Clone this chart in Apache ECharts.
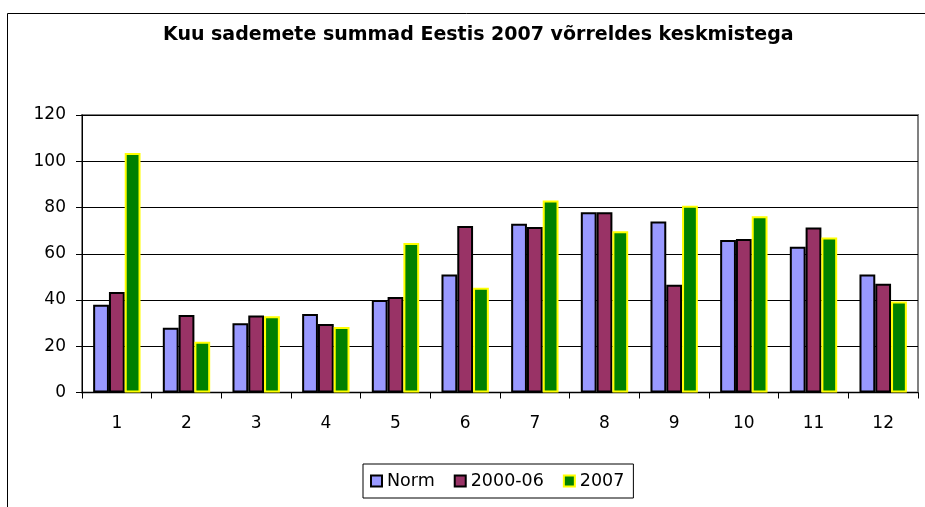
<!DOCTYPE html>
<html>
<head>
<meta charset="utf-8">
<script src="https://cdn.jsdelivr.net/npm/echarts@6/dist/echarts.min.js"></script>
<style>
  html, body { margin: 0; padding: 0; background: #fff; }
  #chart { width: 925px; height: 507px; }
</style>
</head>
<body>
<div id="chart"></div>
<script>
// kuud
var months = ['1', '2', '3', '4', '5', '6', '7', '8', '9', '10', '11', '12'];
// sademed, mm
var normValues = [38, 28, 30, 34, 40, 51, 73, 78, 74, 66, 63, 51];
var avgValues = [43.5, 33.5, 33.3, 29.6, 41.3, 72, 71.6, 78, 46.6, 66.4, 71.3, 47];
var values2007 = [103.6, 22, 33, 28.3, 64.6, 45.3, 83, 69.7, 80.8, 76.2, 67, 39.4];
var seriesNames = ['Norm', '2000-06', '2007'];
var yTicks = [0, 20, 40, 60, 80, 100, 120];

var font = 'DejaVu Sans';
var myChart = echarts.init(document.getElementById('chart'));
var option;

option = {
  animation: false,
  backgroundColor: '#fff',
  title: {
    text: 'Kuu sademete summad Eestis 2007 võrreldes keskmistega',
    left: 158,
    top: 21,
    textStyle: {
      fontFamily: font,
      fontSize: 19,
      fontWeight: 'bold',
      color: '#000'
    }
  },
  // välimine raam
  graphic: [
    {
      type: 'rect',
      shape: { x: 7.5, y: 13.5, width: 960, height: 560 },
      style: { fill: 'none', stroke: '#000', lineWidth: 1 },
      silent: true
    }
  ],
  legend: {
    data: seriesNames,
    left: 363,
    top: 464,
    orient: 'horizontal',
    borderColor: '#000',
    borderWidth: 1,
    padding: [8, 9, 8, 7],
    itemWidth: 11,
    itemHeight: 11,
    itemGap: 19,
    icon: 'rect',
    textStyle: {
      fontFamily: font,
      fontSize: 17.5,
      color: '#000'
    }
  },
  grid: {
    left: 82,
    right: 7,
    top: 115,
    bottom: 114.5,
    show: true,
    borderColor: '#808080',
    borderWidth: 2
  },
  xAxis: {
    type: 'category',
    data: months,
    axisLine: { lineStyle: { color: '#000', width: 1 } },
    axisTick: { show: true, alignWithLabel: false, length: 6, lineStyle: { color: '#000' } },
    axisLabel: {
      margin: 23,
      fontFamily: font,
      fontSize: 17,
      color: '#000'
    }
  },
  yAxis: {
    type: 'value',
    min: yTicks[0],
    max: yTicks[yTicks.length - 1],
    interval: 20,
    axisLine: { show: true, lineStyle: { color: '#000', width: 1 } },
    axisTick: { show: true, length: 6, lineStyle: { color: '#000' } },
    axisLabel: {
      margin: 16,
      fontFamily: font,
      fontSize: 17,
      color: '#000'
    },
    splitLine: { show: true, lineStyle: { color: '#000', width: 1 } }
  },
  series: [
    {
      name: seriesNames[0],
      type: 'bar',
      barGap: 0,
      barCategoryGap: '32%',
      data: normValues,
      itemStyle: { color: '#9999FF', borderColor: '#000', borderWidth: 2 }
    },
    {
      name: seriesNames[1],
      type: 'bar',
      data: avgValues,
      itemStyle: { color: '#993366', borderColor: '#000', borderWidth: 2 }
    },
    {
      name: seriesNames[2],
      type: 'bar',
      data: values2007,
      itemStyle: { color: '#008000', borderColor: '#FFFF00', borderWidth: 2 }
    }
  ]
};

option && myChart.setOption(option);
</script>
</body>
</html>
